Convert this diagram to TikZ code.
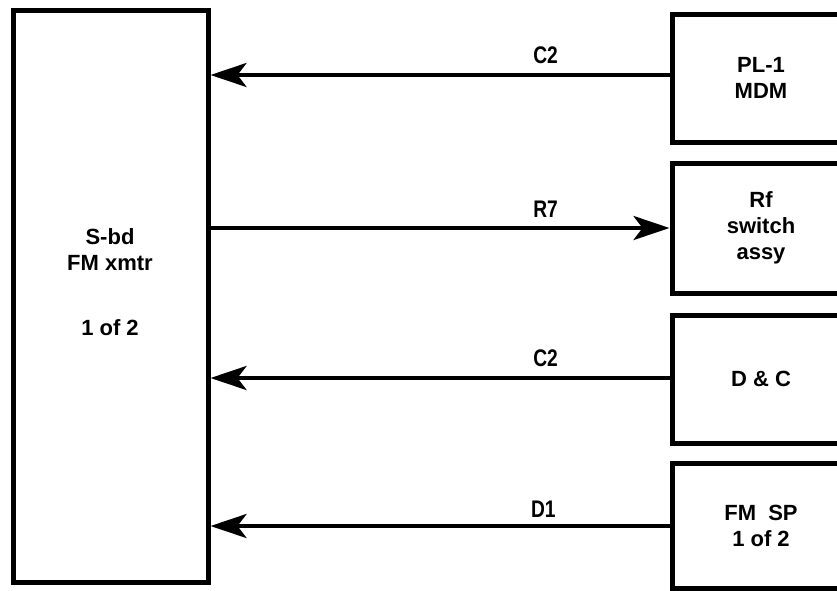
\documentclass[tikz,border=0pt]{standalone}
\usepackage{fontspec}
\setmainfont{Liberation Sans}
\usetikzlibrary{arrows.meta,positioning}
\tikzset{
  unitbox/.style={draw,line width=5pt,align=center,inner sep=0pt,font=\fontsize{22}{26}\selectfont\bfseries},
  sigline/.style={line width=4pt,-{Stealth[length=36pt,width=24pt,inset=9pt]}},
  siglabel/.style={font=\fontsize{24}{26}\selectfont\bfseries,inner sep=0pt}
}
\newcommand{\sig}[1]{\scalebox{0.8}[1]{#1}}
\begin{document}
\begin{tikzpicture}[x=1pt,y=1pt]
\useasboundingbox (0,0) rectangle (837,-590);
\clip (0,0) rectangle (837,-590);
% transmitter on the left
\node[unitbox,minimum width=195pt,minimum height=572pt] (xmtr) at (110.5,-296) {};
\node[font=\fontsize{22}{26}\selectfont\bfseries,align=center] (xmtrname) at (110,-250) {S-bd\\FM xmtr};
\node[font=\fontsize{22}{26}\selectfont\bfseries] (xmtrnum) at (110,-328) {1 of 2};
% boxes on the right, open past the edge
\node[unitbox,minimum width=178pt,minimum height=128pt] (mdm) at (761,-78) {PL-1\\MDM};
\node[unitbox,minimum width=178pt,minimum height=130pt] (rfsw) at (761,-228) {Rf\\switch\\assy};
\node[unitbox,minimum width=178pt,minimum height=128pt] (dc) at (761,-379) {D \& C};
\node[unitbox,minimum width=178pt,minimum height=125pt] (fmsp) at (761,-525.5) {FM~~SP\\1 of 2};
% signal lines
\draw[sigline] (mdm.west |- 0,-75) -- (xmtr.east |- 0,-75) node[siglabel,pos=0.27,above=9pt] {\sig{C2}};
\draw[sigline] (xmtr.east |- 0,-228) -- (rfsw.west |- 0,-228) node[siglabel,pos=0.73,above=9pt] {\sig{R7}};
\draw[sigline] (dc.west |- 0,-378) -- (xmtr.east |- 0,-378) node[siglabel,pos=0.27,above=9pt] {\sig{C2}};
\draw[sigline] (fmsp.west |- 0,-526) -- (xmtr.east |- 0,-526) node[siglabel,pos=0.275,above=7pt] {\sig{D1}};
\end{tikzpicture}
\end{document}
